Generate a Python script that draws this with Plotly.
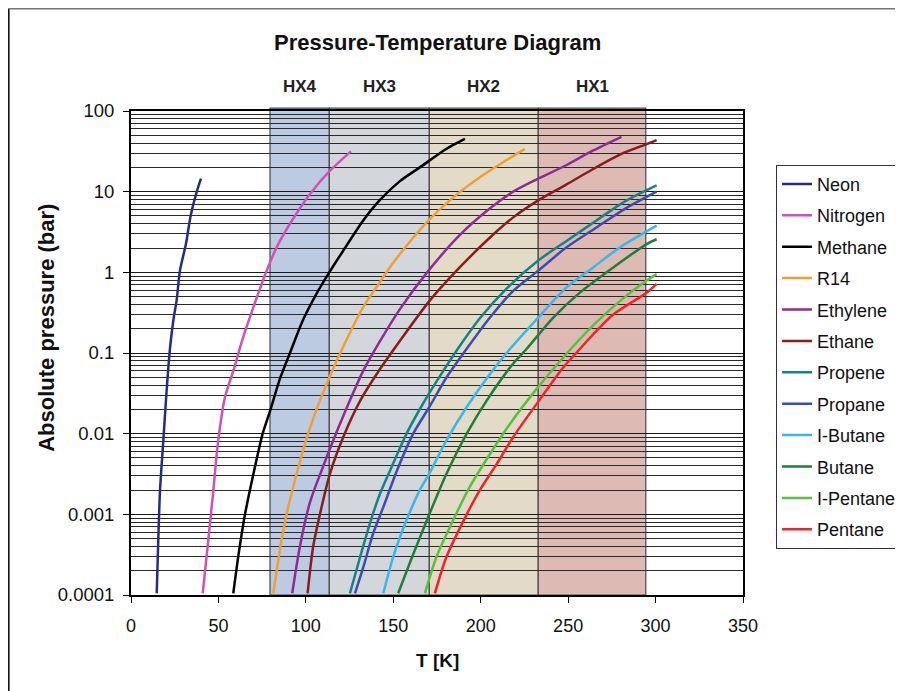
import plotly.graph_objects as go

# ---- data (T in K, P in bar) ----
names = ["Neon", "Nitrogen", "Methane", "R14", "Ethylene", "Ethane",
         "Propene", "Propane", "I-Butane", "Butane", "I-Pentane", "Pentane"]
colors = ["#262C86", "#D251B6", "#000000", "#F0A032", "#8E2C94", "#8A1C1E",
          "#138584", "#3A4DB2", "#36B8EA", "#1E7F3C", "#56C23E", "#EE2525"]

neon_T = [14.7, 15.6, 16.6, 18.5, 20.4, 22.5, 24.5, 26.1, 28.0, 31.4, 34.1, 37.5, 40.0]
neon_P = [0.000105, 0.00048, 0.002, 0.0083, 0.035, 0.126, 0.28, 0.45, 1.05, 2.24, 5.0, 9.8, 14.5]

nitrogen_T = [41.0, 44.2, 47.1, 49.9, 53.7, 58.5, 64.2, 70.0, 77.6, 83.3, 90.9, 102.3, 113.8, 125.8]
nitrogen_P = [0.000105, 0.00048, 0.002, 0.0083, 0.028, 0.06, 0.158, 0.37, 1.05, 2.04, 4.0, 9.3, 18.2, 31.6]

methane_T = [58.5, 61.5, 65.2, 70.0, 75.3, 79.5, 85.2, 90.9, 98.5, 106.2, 113.4, 123.3, 132.8, 142.4, 153.8, 165.2, 180.5, 191.0]
methane_P = [0.000105, 0.000316, 0.001, 0.00316, 0.01, 0.019, 0.048, 0.1, 0.26, 0.55, 1.0, 2.15, 4.4, 7.9, 13.5, 20.0, 34.0, 45.0]

r14_T = [81.4, 86.1, 89.0, 94.7, 101.3, 107.5, 113.8, 121.4, 132.8, 142.4, 148.0, 157.6, 170.6, 184.3, 199.5, 211.0, 225.3]
r14_P = [0.000105, 0.00048, 0.001, 0.00316, 0.01, 0.024, 0.052, 0.12, 0.37, 0.76, 1.15, 2.14, 4.5, 8.5, 15.1, 21.9, 33.9]

ethylene_T = [92.2, 96.6, 102.3, 109.0, 115.7, 121.4, 132.8, 142.4, 153.8, 170.6, 188.4, 203.4, 218.6, 232.9, 249.1, 264.3, 280.5]
ethylene_P = [0.000105, 0.0004, 0.0014, 0.0035, 0.0083, 0.0166, 0.06, 0.14, 0.35, 1.08, 2.95, 5.75, 10.0, 14.5, 21.4, 32.4, 47.9]

ethane_T = [101.0, 104.2, 109.0, 113.8, 121.4, 131.1, 141.0, 152.8, 170.6, 186.2, 205.3, 218.6, 232.9, 249.1, 264.3, 279.6, 294.9, 300.6]
ethane_P = [0.000105, 0.0004, 0.00123, 0.0032, 0.0091, 0.0257, 0.057, 0.132, 0.44, 1.05, 2.7, 4.8, 7.8, 12.3, 19.1, 28.8, 38.9, 43.6]

propene_T = [125.2, 131.1, 136.7, 142.4, 150.0, 157.6, 167.2, 178.6, 188.1, 199.5, 214.8, 232.9, 249.1, 266.2, 283.4, 300.6]
propene_P = [0.000105, 0.0003, 0.00078, 0.0018, 0.0043, 0.01, 0.024, 0.06, 0.123, 0.27, 0.63, 1.4, 2.45, 4.4, 7.8, 12.0]

propane_T = [128.1, 132.8, 138.5, 144.3, 151.9, 161.4, 170.6, 180.5, 191.9, 205.3, 218.6, 232.9, 249.1, 266.2, 283.4, 300.6]
propane_P = [0.000105, 0.00022, 0.00058, 0.00123, 0.0034, 0.01, 0.0214, 0.05, 0.112, 0.275, 0.59, 1.05, 2.04, 3.6, 6.3, 10.0]

ibutane_T = [144.3, 150.0, 157.6, 165.2, 170.6, 180.5, 192.0, 205.3, 216.7, 232.9, 249.1, 264.3, 279.6, 300.6]
ibutane_P = [0.000105, 0.0003, 0.00085, 0.002, 0.0032, 0.0083, 0.0214, 0.055, 0.112, 0.275, 0.65, 1.15, 2.04, 3.8]

butane_T = [152.8, 161.4, 170.6, 180.5, 192.0, 203.4, 218.6, 226.2, 241.5, 256.7, 275.8, 294.9, 300.6]
butane_P = [0.000105, 0.00032, 0.001, 0.0032, 0.01, 0.0257, 0.074, 0.112, 0.275, 0.56, 1.15, 2.24, 2.57]

ipentane_T = [168.1, 174.8, 184.3, 193.8, 205.3, 216.7, 232.9, 249.1, 264.3, 279.6, 294.9, 300.6]
ipentane_P = [0.000105, 0.0003, 0.00085, 0.0022, 0.0056, 0.0132, 0.038, 0.098, 0.22, 0.44, 0.79, 0.95]

pentane_T = [173.8, 180.5, 192.0, 199.5, 209.1, 218.6, 232.0, 247.2, 256.7, 264.3, 275.8, 294.9, 300.6]
pentane_P = [0.000105, 0.0003, 0.001, 0.002, 0.0042, 0.0091, 0.0234, 0.066, 0.112, 0.17, 0.30, 0.56, 0.72]

series_T = [neon_T, nitrogen_T, methane_T, r14_T, ethylene_T, ethane_T,
            propene_T, propane_T, ibutane_T, butane_T, ipentane_T, pentane_T]
series_P = [neon_P, nitrogen_P, methane_P, r14_P, ethylene_P, ethane_P,
            propene_P, propane_P, ibutane_P, butane_P, ipentane_P, pentane_P]

# heat exchanger temperature bands
hx_names = ["HX4", "HX3", "HX2", "HX1"]
hx_lo = [79.5, 113.4, 170.6, 232.9]
hx_hi = [113.4, 170.6, 232.9, 294.4]
hx_colors = ["#BCCBE2", "#D3D6DA", "#E3DBC7", "#DDBAB3"]

y_tickvals = [0.0001, 0.001, 0.01, 0.1, 1, 10, 100]
y_ticktext = ["0.0001", "0.001", "0.01", "0.1", "1", "10", "100"]
x_tickvals = [0, 50, 100, 150, 200, 250, 300, 350]

FONT = "Liberation Sans, Arial, sans-serif"

fig = go.Figure()
for n, c, T, P in zip(names, colors, series_T, series_P):
    fig.add_trace(go.Scatter(
        x=T, y=P, mode="lines", name=n, legendgroup=n,
        line=dict(color=c, width=2.5, shape="spline", smoothing=0.8)))

shapes = []
annotations = []
for n, lo, hi, col in zip(hx_names, hx_lo, hx_hi, hx_colors):
    shapes.append(dict(type="rect", xref="x", yref="paper", x0=lo, x1=hi, y0=0, y1=1.006,
                       fillcolor=col, line=dict(color="#4a4a4a", width=1.2), layer="below"))
    annotations.append(dict(text="<b>%s</b>" % n, xref="x", yref="paper",
                            x=(lo + hi) / 2, y=1.075, showarrow=False,
                            font=dict(size=17, color="#222", family=FONT)))

# outer chart frame (left black edge, grey top edge)
shapes.append(dict(type="line", xref="paper", yref="paper", x0=-0.2, x1=-0.2,
                   y0=-0.2, y1=1.212, line=dict(color="#111", width=2)))
shapes.append(dict(type="line", xref="paper", yref="paper", x0=-0.2, x1=1.27,
                   y0=1.212, y1=1.212, line=dict(color="#777", width=2)))

annotations.append(dict(text="<b>Pressure-Temperature Diagram</b>", xref="paper", yref="paper",
                        x=0.5, y=1.172, showarrow=False,
                        font=dict(size=22, color="#111", family=FONT)))
annotations.append(dict(text="<b>T [K]</b>", xref="paper", yref="paper",
                        x=0.5, y=-0.161, showarrow=False,
                        font=dict(size=19, color="#111", family=FONT)))
annotations.append(dict(text="<b>Absolute pressure (bar)</b>", xref="paper", yref="paper",
                        x=-0.161, y=0.552, showarrow=False, textangle=-90,
                        font=dict(size=22, color="#111", family=FONT)))

minor_vals = [k * 10.0 ** e for e in range(-4, 2) for k in range(2, 10)]

# page body adds an 8px margin, so the figure is 8px smaller and margins shifted
fig.update_layout(
    width=895, height=683,
    margin=dict(l=123, r=160, t=103, b=96, autoexpand=False),
    paper_bgcolor="white", plot_bgcolor="white",
    font=dict(family=FONT, size=18, color="#111"),
    shapes=shapes, annotations=annotations,
    showlegend=True,
    legend=dict(x=1.054, y=0.889, xanchor="left", yanchor="top",
                bordercolor="#333", borderwidth=1, bgcolor="white",
                font=dict(size=18, family=FONT, color="#111"),
                tracegroupgap=5, itemwidth=30, traceorder="grouped"),
    xaxis=dict(range=[0, 350], tickvals=x_tickvals, showgrid=False, zeroline=False,
               showline=True, linecolor="black", linewidth=2, mirror=True,
               ticks="outside", ticklen=6, tickcolor="black", ticklabelstandoff=7,
               tickfont=dict(size=18, family=FONT, color="#111")),
    yaxis=dict(type="log", range=[-4, 2], tickvals=y_tickvals, ticktext=y_ticktext,
               showgrid=True, gridcolor="#1a1a1a", gridwidth=1, zeroline=False,
               showline=True, linecolor="black", linewidth=2, mirror=True,
               ticks="outside", ticklen=6, tickcolor="black", ticklabelstandoff=5,
               tickfont=dict(size=18.5, family=FONT, color="#111"),
               minor=dict(tickvals=minor_vals, showgrid=True, gridcolor="#2a2a2a",
                          gridwidth=1, ticks="")),
)

fig.write_html("out.html")
